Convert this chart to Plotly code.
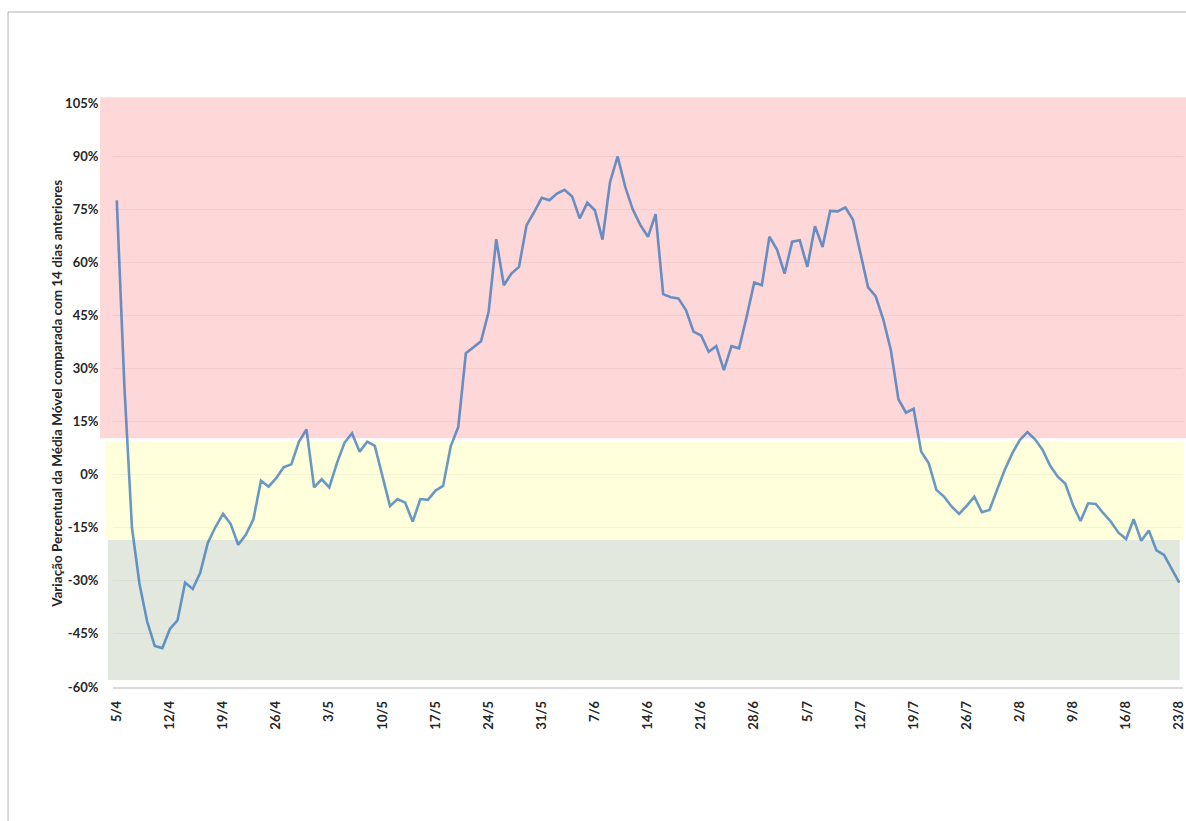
import datetime as dt
import plotly.graph_objects as go

# ---- data -------------------------------------------------------------
start = dt.date(2020, 4, 5)
n_days = 141
categories = [f"{(start + dt.timedelta(days=i)).day}/{(start + dt.timedelta(days=i)).month}"
              for i in range(n_days)]

variacao = [
    77.5, 25.0, -15.0, -31.0, -41.5, -48.4, -49.0, -43.6, -41.2, -30.5,
    -32.3, -27.7, -19.2, -14.8, -11.1, -13.9, -19.8, -17.0, -12.6, -1.7,
    -3.4, -1.0, 2.1, 2.9, 9.3, 12.8, -3.6, -1.3, -3.6, 3.2,
    9.0, 11.7, 6.5, 9.3, 8.1, -0.5, -8.9, -6.9, -7.9, -13.3,
    -6.9, -7.1, -4.5, -3.2, 8.0, 13.5, 34.3, 36.0, 37.7, 46.0,
    66.5, 53.5, 56.8, 58.7, 70.5, 74.2, 78.2, 77.5, 79.4, 80.5,
    78.6, 72.4, 76.8, 74.7, 66.4, 82.7, 89.9, 81.3, 74.9, 70.5,
    67.2, 73.6, 51.0, 50.1, 49.8, 46.5, 40.4, 39.3, 34.7, 36.3,
    29.5, 36.3, 35.7, 44.6, 54.3, 53.5, 67.2, 63.6, 56.8, 65.8,
    66.2, 58.7, 70.2, 64.3, 74.5, 74.4, 75.5, 72.1, 62.5, 52.9,
    50.4, 43.9, 35.2, 21.3, 17.5, 18.6, 6.5, 3.2, -4.3, -6.2,
    -9.0, -11.1, -8.8, -6.2, -10.6, -10.0, -4.3, 1.3, 6.0, 9.8,
    12.0, 10.0, 7.0, 2.5, -0.6, -2.6, -8.6, -13.1, -8.1, -8.3,
    -10.9, -13.3, -16.4, -18.2, -12.6, -18.7, -15.8, -21.4, -22.7, -26.4,
    -30.5,
]

x_tick_labels = categories[::7]
y_tick_values = list(range(-60, 106, 15))
y_tick_labels = [f"{v}%" for v in y_tick_values]

axis_title = "Variação Percentual da Média Móvel comparada com 14 dias anteriores"

# ---- figure -----------------------------------------------------------
FONT = "Lato"
fig = go.Figure()

fig.add_trace(go.Scatter(
    x=categories, y=variacao, mode="lines",
    line=dict(color="rgba(40,110,185,0.70)", width=2.6),
    hoverinfo="x+y", showlegend=False,
))

shapes = [
    # red band
    dict(type="rect", xref="paper", yref="paper", x0=-0.0121, x1=1.0028,
         y0=0.4259, y1=1.0098, fillcolor="#FED7D8", line=dict(width=0), layer="below"),
    # yellow band
    dict(type="rect", xref="paper", yref="paper", x0=-0.0075, x1=1.0,
         y0=0.2517, y1=0.4200, fillcolor="#FFFFDB", line=dict(width=0), layer="below"),
    # grey-green band
    dict(type="rect", xref="paper", yref="paper", x0=-0.0047, x1=0.997,
         y0=0.012, y1=0.2517, fillcolor="#E3E8DE", line=dict(width=0), layer="below"),
    # chart frame (top and left edges)
    dict(type="line", xref="paper", yref="paper", x0=-0.0981, x1=1.01,
         y0=1.1558, y1=1.1558, line=dict(color="#B4B4B4", width=1)),
    dict(type="line", xref="paper", yref="paper", x0=-0.0981, x1=-0.0981,
         y0=1.1558, y1=-0.26, line=dict(color="#B4B4B4", width=1)),
]

fig.update_layout(
    width=1186, height=821,
    margin=dict(l=113, r=3, t=103, b=134),
    paper_bgcolor="white", plot_bgcolor="rgba(0,0,0,0)",
    font=dict(family=FONT, color="#262626"),
    shapes=shapes,
    showlegend=False,
    annotations=[dict(
        text=f"<b>{axis_title}</b>", xref="paper", yref="paper",
        x=-0.0523, y=0.502, textangle=-90, showarrow=False,
        font=dict(family=FONT, size=13.5, color="#262626"),
        xanchor="center", yanchor="middle",
    )],
)

fig.update_xaxes(
    type="category", range=[-0.5, n_days - 0.5],
    tickmode="array", tickvals=x_tick_labels,
    ticktext=[f"<b>{t}</b>" for t in x_tick_labels],
    tickangle=-90, tickfont=dict(family=FONT, size=13, color="#262626"),
    showgrid=False, zeroline=False,
    showline=True, linecolor="#D9D9D9", linewidth=1.5,
    ticks="outside", ticklen=7, tickcolor="rgba(0,0,0,0)",
    automargin=False, fixedrange=True,
)

fig.update_yaxes(
    range=[-60, 105],
    tickmode="array", tickvals=y_tick_values,
    ticktext=[f"<b>{t}</b>" for t in y_tick_labels],
    tickfont=dict(family=FONT, size=13, color="#262626"),
    showgrid=True, gridcolor="rgba(0,0,0,0.045)", gridwidth=1,
    zeroline=False, showline=False,
    ticks="outside", ticklen=11, tickcolor="rgba(0,0,0,0)",
    automargin=False, fixedrange=True,
)

fig.write_html(
    "out.html",
    config={"displayModeBar": False},
    post_script="document.body.style.margin='0';document.body.style.overflow='hidden';",
)
